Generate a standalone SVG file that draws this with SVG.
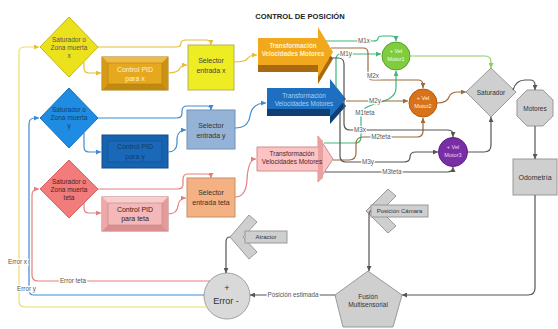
<svg xmlns="http://www.w3.org/2000/svg" width="558" height="329" viewBox="0 0 558 329">
<defs>
<style>
text{font-family:"Liberation Sans",Arial,sans-serif;text-anchor:middle}
.s6{font-size:6.5px}
.s7{font-size:7px}
.c{fill:none;stroke-width:1.2}
.lbl{font-size:6.3px;fill:#555;paint-order:stroke;stroke:#fff;stroke-width:2.5px}
.yl{stroke:#E3BE36}
.bl{stroke:#3D8BD0}
.pk{stroke:#E57F7F}
.gr{stroke:#3CB878}
.lg{stroke:#8CCB5E}
.br{stroke:#9C6B3C}
.dk{stroke:#555}
.gray{fill:#CFCFCF;stroke:#999;stroke-width:1}
</style>
<marker id="mY" viewBox="0 0 6 6" refX="6" refY="3" markerWidth="5" markerHeight="5" markerUnits="userSpaceOnUse" orient="auto"><path d="M0,0L6,3L0,6z" fill="#E3BE36"/></marker>
<marker id="mB" viewBox="0 0 6 6" refX="6" refY="3" markerWidth="5" markerHeight="5" markerUnits="userSpaceOnUse" orient="auto"><path d="M0,0L6,3L0,6z" fill="#3D8BD0"/></marker>
<marker id="mP" viewBox="0 0 6 6" refX="6" refY="3" markerWidth="5" markerHeight="5" markerUnits="userSpaceOnUse" orient="auto"><path d="M0,0L6,3L0,6z" fill="#E57F7F"/></marker>
<marker id="mG" viewBox="0 0 6 6" refX="6" refY="3" markerWidth="5" markerHeight="5" markerUnits="userSpaceOnUse" orient="auto"><path d="M0,0L6,3L0,6z" fill="#3CB878"/></marker>
<marker id="mL" viewBox="0 0 6 6" refX="6" refY="3" markerWidth="5" markerHeight="5" markerUnits="userSpaceOnUse" orient="auto"><path d="M0,0L6,3L0,6z" fill="#8CCB5E"/></marker>
<marker id="mR" viewBox="0 0 6 6" refX="6" refY="3" markerWidth="5" markerHeight="5" markerUnits="userSpaceOnUse" orient="auto"><path d="M0,0L6,3L0,6z" fill="#9C6B3C"/></marker>
<marker id="mD" viewBox="0 0 6 6" refX="6" refY="3" markerWidth="5" markerHeight="5" markerUnits="userSpaceOnUse" orient="auto"><path d="M0,0L6,3L0,6z" fill="#555"/></marker>
</defs>
<rect width="558" height="329" fill="#fff"/>
<text x="300" y="19" font-size="7.6" font-weight="bold" fill="#222">CONTROL DE POSICIÓN</text>

<!-- nodes -->
<g id="sat-x"><polygon points="69,17 98,47 69,77 40,47" fill="#ECE21C" stroke="#C4B810"/>
<text class="s6" fill="#555" x="69" y="41.5">Saturador o</text><text class="s6" fill="#555" x="69" y="49.5">Zona muerta</text><text class="s6" fill="#555" x="69" y="57.5">x</text></g>
<g id="sat-y"><polygon points="69,88 98,118 69,148 40,118" fill="#1E8CE2" stroke="#1670C0"/>
<text class="s6" fill="#14406E" x="69" y="112">Saturador o</text><text class="s6" fill="#14406E" x="69" y="120">Zona muerta</text><text class="s6" fill="#14406E" x="69" y="128">y</text></g>
<g id="sat-teta"><polygon points="69,160 98,189 69,218 40,189" fill="#F27C7C" stroke="#D86060"/>
<text class="s6" fill="#4A2020" x="69" y="184">Saturador o</text><text class="s6" fill="#4A2020" x="69" y="192">Zona muerta</text><text class="s6" fill="#4A2020" x="69" y="200">teta</text></g>

<g id="pid-x"><rect x="102" y="57" width="66" height="33" fill="#E2A51C" stroke="#A8780E"/>
<polygon points="102,57 168,57 162,63 108,63" fill="#EEBB44"/><polygon points="102,90 168,90 162,84 108,84" fill="#C08910"/>
<polygon points="102,57 108,63 108,84 102,90" fill="#D69A18"/><polygon points="168,57 162,63 162,84 168,90" fill="#CC9214"/>
<rect x="108" y="63" width="54" height="21" fill="#E5A81E" stroke="#B5800F" stroke-width="0.6"/>
<text class="s7" fill="#FFF4CC" x="135" y="72">Control PID</text><text class="s7" fill="#FFF4CC" x="135" y="81">para x</text></g>
<g id="pid-y"><rect x="102" y="135" width="66" height="33" fill="#1763B0" stroke="#0F4D8F"/>
<rect x="108" y="141" width="54" height="21" fill="#1A69B8" stroke="#0F4D8F" stroke-width="0.6"/>
<text class="s7" fill="#0C3E72" x="135" y="149">Control PID</text><text class="s7" fill="#0C3E72" x="135" y="159">para y</text></g>
<g id="pid-teta"><rect x="102" y="197" width="66" height="34" fill="#F4B3B3" stroke="#B87272"/>
<polygon points="102,197 168,197 162,203 108,203" fill="#F9CDCD"/><polygon points="102,231 168,231 162,225 108,225" fill="#D98F8F"/>
<polygon points="102,197 108,203 108,225 102,231" fill="#EEA8A8"/><polygon points="168,197 162,203 162,225 168,231" fill="#E39C9C"/>
<rect x="108" y="203" width="54" height="22" fill="#F5B8B8" stroke="#C08080" stroke-width="0.6"/>
<text class="s7" fill="#3A2020" x="135" y="211.5">Control PID</text><text class="s7" fill="#3A2020" x="135" y="221">para teta</text></g>

<g id="sel-x"><rect x="188" y="45" width="46" height="45" fill="#EEEC22" stroke="#B8B060"/>
<text class="s7" fill="#444" x="211" y="62.5">Selector</text><text class="s7" fill="#444" x="211" y="72.5">entrada x</text></g>
<g id="sel-y"><rect x="187" y="110" width="48" height="39" fill="#95B3D7" stroke="#7090B8"/>
<text class="s7" fill="#333" x="211" y="127.5">Selector</text><text class="s7" fill="#333" x="211" y="137.5">entrada y</text></g>
<g id="sel-teta"><rect x="187" y="178" width="48" height="39" fill="#F4B183" stroke="#C89060"/>
<text class="s7" fill="#333" x="211" y="194.5">Selector</text><text class="s7" fill="#333" x="211" y="204.5">entrada teta</text></g>

<g id="tr-x"><polygon points="258,45 318,45 318,34 333,59 318,84 318,72 258,72" fill="#A86A10"/>
<polygon points="258,38 318,38 318,27 333,52 318,77 318,65 258,65" fill="#F2A81C"/>
<text font-size="6.3" font-weight="bold" fill="#FFF3D0" x="293" y="48">Transformación</text><text font-size="6.3" font-weight="bold" fill="#FFF3D0" x="293" y="56">Velocidades Motores</text></g>
<g id="tr-y"><polygon points="267,95 330,95 330,86 346,106 330,124 330,116 267,116" fill="#0D3F75"/>
<polygon points="267,88 330,88 330,79 346,99 330,117 330,109 267,109" fill="#1E6FC0"/>
<text font-size="6.3" fill="#A8D0F4" x="304" y="98">Transformación</text><text font-size="6.3" fill="#A8D0F4" x="304" y="106">Velocidades Motores</text></g>
<g id="tr-teta"><polygon points="257,147 318,147 318,136 333,159 318,182 318,171 257,171" fill="#FBC3C3" stroke="#D48C8C"/>
<polygon points="318,136 323,141 323,178 318,182" fill="#E8A0A0"/>
<text font-size="6.5" fill="#5A2020" x="292" y="156">Transformación</text><text font-size="6.5" fill="#5A2020" x="292" y="164">Velocidades Motores</text></g>

<g id="motor1"><circle cx="396" cy="56" r="14" fill="#7FCC3E" stroke="#5EA02C"/>
<text font-size="5.6" fill="#F4FFE8" x="396" y="53">+ Vel</text><text font-size="5.6" fill="#F4FFE8" x="396" y="61">Motor1</text></g>
<g id="motor2"><circle cx="423" cy="103" r="14" fill="#D9731A" stroke="#B05A10"/>
<text font-size="5.6" fill="#FFF0E0" x="423" y="100">+ Vel</text><text font-size="5.6" fill="#FFF0E0" x="423" y="108">Motor2</text></g>
<g id="motor3"><circle cx="453" cy="152" r="14.5" fill="#7A2EA6" stroke="#5C1F80"/>
<text font-size="5.6" fill="#E8D4F4" x="453" y="149">+ Vel</text><text font-size="5.6" fill="#E8D4F4" x="453" y="157">Motor3</text></g>

<g id="saturador"><polygon class="gray" points="491,68 516,92 491,117 466,92"/>
<text class="s6" fill="#333" x="491" y="94.5">Saturador</text></g>
<g id="motores"><polygon class="gray" points="527,90 543,90 553,100 553,116 543,126 527,126 517,116 517,100"/>
<text class="s6" fill="#333" x="535" y="110.5">Motores</text></g>
<g id="odometria"><rect class="gray" x="513" y="159" width="44" height="36" fill="#D2D2D2"/>
<text class="s7" fill="#333" x="535" y="179.5">Odometría</text></g>
<g id="fusion"><polygon class="gray" points="368,271 402,295 393,327 343,327 335,295"/>
<text class="s6" fill="#333" x="368" y="299">Fusión</text><text class="s6" fill="#333" x="368" y="307">Multisensorial</text></g>
<g id="error"><circle cx="227" cy="296" r="23" fill="#D9D9D9" stroke="#A0A0A0"/>
<text font-size="9" fill="#333" x="227" y="291">+</text><text font-size="9" fill="#333" x="226" y="304">Error -</text></g>
<g id="atractor"><polygon class="gray" points="230,237 249,215 257,222 243,237 257,252 249,259"/>
<rect class="gray" x="245" y="231" width="42" height="12" fill="#D4D4D4"/>
<text font-size="6" fill="#333" x="266" y="239.3">Atractor</text></g>
<g id="camara"><polygon class="gray" points="366,211 388,189 396,196 381,211 396,226 388,233"/>
<rect class="gray" x="371" y="205" width="57" height="12" fill="#D4D4D4"/>
<text font-size="6" fill="#333" x="399.5" y="213.3">Posición Cámara</text></g>

<!-- connectors -->
<g id="connectors">
<path class="c yl" d="M84,62 V68 Q84,73 89,73 H101" marker-end="url(#mY)"/>
<path class="c yl" d="M98,47 H176 Q181,47 181,43 Q181,40 186,40 H206 Q211,40 211,45" marker-end="url(#mY)"/>
<path class="c yl" d="M168,73 Q178,73 180,68 Q182,65 187,65" marker-end="url(#mY)"/>
<path class="c yl" d="M234,62 Q246,62 248,58 Q250,55 257,55" marker-end="url(#mY)"/>
<path class="c bl" d="M84,133 V147 Q84,152 89,152 H101" marker-end="url(#mB)"/>
<path class="c bl" d="M98,118 H177 Q182,118 182,113 V111 Q182,106 187,106 H207 Q211,106 211,110" marker-end="url(#mB)"/>
<path class="c bl" d="M168,152 Q176,152 177,144 V138 Q178,130 186,130" marker-end="url(#mB)"/>
<path class="c bl" d="M235,128 Q248,128 250,116 Q252,103 266,103" marker-end="url(#mB)"/>
<path class="c pk" d="M84,203 V208 Q84,213 89,213 H101" marker-end="url(#mP)"/>
<path class="c pk" d="M98,189 H178 Q183,189 183,184 V179 Q183,174 188,174 H207 Q211,174 211,178" marker-end="url(#mP)"/>
<path class="c pk" d="M168,214 Q177,214 178,206 Q179,198 186,198" marker-end="url(#mP)"/>
<path class="c pk" d="M235,197 Q246,197 247,180 Q248,159 256,159" marker-end="url(#mP)"/>
<path class="c" stroke="#F0DC6A" d="M207,307 H25 Q19,307 19,301 V52 Q19,47 25,47 H39" marker-end="url(#mY)"/>
<path class="c bl" d="M204,295 H34 Q29,295 29,290 V124 Q29,118 35,118 H39" marker-end="url(#mB)"/>
<path class="c pk" d="M210,281 H38 Q32,281 32,275 V195 Q32,189 38,189 H39" marker-end="url(#mP)"/>
<path class="c gr" d="M326,41 H373 Q378,41 378,38.5 Q378,36 383,36 H391 Q396,36 396,41" marker-end="url(#mG)"/>
<path class="c gr" d="M336,87 V59 Q336,54 341,54 H381" marker-end="url(#mG)"/>
<path class="c gr" d="M324,143 H355 Q361,143 361,137 V116 C361,100 396,106 396,88 V71" marker-end="url(#mG)"/>
<path class="c br" d="M331,48 H363 Q368,48 368,53 V75 Q368,80 373,80 H418 Q423,80 423,85 V88" marker-end="url(#mR)"/>
<path class="c br" d="M346,101 H408" marker-end="url(#mR)"/>
<path class="c br" d="M333,160 H349 Q356,160 356,153 V144 Q356,137 363,137 H417 Q423,137 423,131 V118" marker-end="url(#mR)"/>
<path class="c dk" d="M329,58 H338 Q344,58 344,64 V124 Q344,130 350,130 H447 Q453,130 453,134 V137" marker-end="url(#mD)"/>
<path class="c dk" d="M340,112 V156 Q340,162 346,162 H404 Q410,162 410,157 Q410,152 416,152 H438" marker-end="url(#mD)"/>
<path class="c dk" d="M325,172 H447 Q453,172 453,167" marker-end="url(#mD)"/>
<path class="c lg" d="M410,56 H485 Q491,56 491,62 V68" marker-end="url(#mL)"/>
<path class="c br" d="M437,103 Q447,103 449,97 Q451,92 458,92 H466" marker-end="url(#mR)"/>
<path class="c dk" d="M467.5,152 H484 Q491,152 491,145 V117" marker-end="url(#mD)"/>
<path class="c dk" d="M513,90 Q516,80 525,80 H530 Q535,80 535,85 V90" marker-end="url(#mD)"/>
<path class="c dk" d="M535,126 V159" marker-end="url(#mD)"/>
<path class="c dk" d="M535,195 V288 Q535,295 528,295 H402" marker-end="url(#mD)"/>
<path class="c dk" d="M335,295 H250" marker-end="url(#mD)"/>
<path class="c dk" d="M230,237 Q226,237 226,242 V273" marker-end="url(#mD)"/>
<path class="c dk" d="M371,211 Q369,211 369,215 V271" marker-end="url(#mD)"/>
<text class="lbl" x="364" y="43.2">M1x</text>
<text class="lbl" x="346" y="56.2">M1y</text>
<text class="lbl" x="373" y="77.5">M2x</text>
<text class="lbl" x="375" y="103.3">M2y</text>
<text class="lbl" x="365" y="115">M1teta</text>
<text class="lbl" x="360" y="132.2">M3x</text>
<text class="lbl" x="381" y="139.2">M2teta</text>
<text class="lbl" x="368" y="164.2">M3y</text>
<text class="lbl" x="392" y="174.2">M3teta</text>
<text class="lbl" x="293" y="297.2">Posición estimada</text>
<text class="lbl" font-size="5.6" x="17.5" y="264">Error x</text>
<text class="lbl" font-size="5.6" x="26.5" y="291">Error y</text>
<text class="lbl" font-size="5.6" x="73" y="283">Error teta</text>
</g>
</svg>
